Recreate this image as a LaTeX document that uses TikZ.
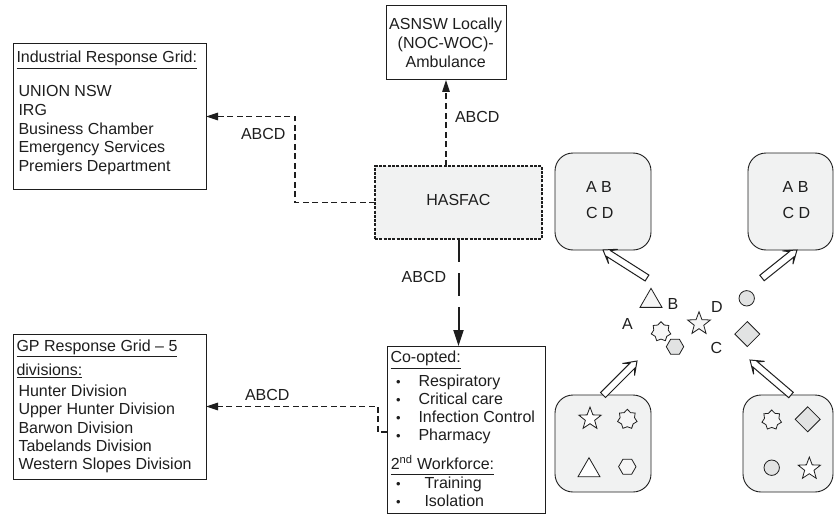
\documentclass[tikz,border=0pt]{standalone}
\usepackage{fontspec}
\setmainfont{Liberation Sans}
\usetikzlibrary{arrows.meta,shapes.geometric,calc}

\definecolor{ink}{HTML}{1E1E1E}
\definecolor{panel}{HTML}{F1F2F2}
\definecolor{shade}{HTML}{E2E3E3}
\definecolor{pale}{HTML}{F6F6F6}

% open double-stroke arrow drawn along +x, #1 = length
\tikzset{harrow/.pic={
  \draw[draw=ink, line width=1pt, fill=white, line join=miter]
    (0,-3.5) -- ({#1-7},-3.5) -- ({#1-12},-8.5) -- (#1,0) -- ({#1-12},8.5)
    -- ({#1-7},3.5) -- (0,3.5) -- cycle;
}}

\begin{document}
\begin{tikzpicture}[x=1pt,y=-1pt,
  every node/.style={inner sep=0pt, outer sep=0pt, text=ink,
                     font=\fontsize{16}{19}\selectfont},
  box/.style={rectangle, draw=ink, line width=1pt, fill=white},
  rbox/.style={rectangle, draw=ink, line width=0.9pt, fill=panel, rounded corners=18pt},
  ruler/.style={draw=ink, line width=0.9pt},
  conn/.style={draw=ink, line width=1.2pt, dash pattern=on 6pt off 3.5pt,
               -{Triangle[length=12pt,width=7.5pt]}},
  bigconn/.style={draw=ink, line width=2pt, dash pattern=on 23pt off 11pt,
                  -{Triangle[length=16pt,width=10pt]}},
  glyph/.style={draw=ink, line width=0.8pt},
  lbl/.style={anchor=base west},
  bul/.style={anchor=base, font=\fontsize{13}{19}\selectfont}
]
\useasboundingbox (0,0) rectangle (834,516);

% ---------- boxes ----------
\node[box, minimum width=193pt, minimum height=145pt] (irg) at (109.5,116.5) {};
\node[box, minimum width=120pt, minimum height=74pt] (asnsw) at (446,43) {};
\node[rectangle, draw=ink, line width=1.2pt, fill=panel, dash pattern=on 3pt off 1.3pt,
      minimum width=167pt, minimum height=73pt] (hasfac) at (458.5,202.5) {};
\node[box, minimum width=158pt, minimum height=167pt] (coopt) at (466,429.5) {};
\node[box, minimum width=193pt, minimum height=145pt] (gp) at (109.5,406.5) {};

% ---------- Industrial Response Grid ----------
\node[lbl] (irg-t) at (16.5,63) {Industrial Response Grid:};
\draw[ruler] ([yshift=-5pt]irg-t.base west) -- ([yshift=-5pt]irg-t.base east);
\foreach \t [count=\i] in {UNION NSW, IRG, Business Chamber, Emergency Services, Premiers Department}
  \node[lbl] (irg-\i) at (18.5,{96.7+18.75*(\i-1)}) {\t};

% ---------- ASNSW ----------
\node[anchor=base] (as-1) at (445.7,30) {ASNSW Locally};
\node[anchor=base] (as-2) at (445.7,48.5) {(NOC-WOC)-};
\node[anchor=base] (as-3) at (445.7,67.5) {Ambulance};

% ---------- HASFAC ----------
\node[anchor=base] (hasfac-t) at (458.3,205) {HASFAC};

% ---------- GP Response Grid ----------
\node[lbl] (gp-t1) at (16.5,351.7) {GP Response Grid – 5};
\draw[ruler] ([yshift=-4.3pt]gp-t1.base west) -- ([yshift=-4.3pt]gp-t1.base east);
\node[lbl] (gp-t2) at (16.5,375) {divisions:};
\draw[ruler] ([yshift=-2.7pt]gp-t2.base west) -- ([yshift=-2.7pt]gp-t2.base east);
\foreach \t [count=\i] in {Hunter Division, Upper Hunter Division, Barwon Division, Tabelands Division, Western Slopes Division}
  \node[lbl] (gp-\i) at (18.5,{396.7+18.15*(\i-1)}) {\t};

% ---------- Co-opted ----------
\node[lbl] (co-t) at (390.5,362.7) {Co-opted:};
\draw[ruler] ([yshift=-6pt]co-t.base west) -- ([yshift=-6pt]co-t.base east);
\foreach \t [count=\i] in {Respiratory, Critical care, Infection Control, Pharmacy} {
  \node[bul] (co-b\i) at (398.3,{386.7+18*(\i-1)}) {\textbullet};
  \node[lbl] (co-\i) at (418.5,{386.7+18*(\i-1)}) {\t};
}
\node[lbl] (wf-t) at (390.8,469.3) {2\textsuperscript{nd} Workforce:};
\draw[ruler] ([yshift=-4.7pt]wf-t.base west) -- ([yshift=-4.7pt]wf-t.base east);
\node[bul] (wf-b1) at (398.3,488.3) {\textbullet};
\node[lbl] (wf-1) at (424.5,488.3) {Training};
\node[bul] (wf-b2) at (398.3,506.6) {\textbullet};
\node[lbl] (wf-2) at (424.5,506.6) {Isolation};

% ---------- connectors ----------
\coordinate (k1) at (295,116.5);
\draw[conn] (hasfac.west) -| (k1) -- (irg.east);
\node[lbl] (l1) at (241,139.5) {ABCD};

\draw[conn] (asnsw.south |- hasfac.north) -- (asnsw.south);
\node[lbl] (l2) at (455,122.3) {ABCD};

\draw[bigconn] (hasfac.south) -- (hasfac.south |- coopt.north);
\node[lbl] (l3) at (401.7,282.7) {ABCD};

\coordinate (k2) at (378,406.5);
\draw[conn] ([yshift=-2.5pt]coopt.west) -| (k2) -- (gp.east);
\node[lbl] (l4) at (245,400.7) {ABCD};

% ---------- rounded panels ----------
\node[rbox, minimum width=96pt, minimum height=97pt] (tl) at (603,201.5) {};
\node[rbox, minimum width=85pt, minimum height=97pt] (tr) at (790.5,201.5) {};
\node[rbox, minimum width=96pt, minimum height=97pt] (bl) at (603,443.5) {};
\node[rbox, minimum width=90pt, minimum height=97pt] (br) at (788,443.5) {};

\node[lbl] (tl-1) at (586,192.7) {A B};
\node[lbl] (tl-2) at (586,218.3) {C D};
\node[lbl] (tr-1) at (782.7,192.7) {A B};
\node[lbl] (tr-2) at (782.7,218.3) {C D};

% shapes inside the lower panels
\node[glyph, star, star points=5, star point ratio=2.4, minimum size=23.5pt, fill=white] (bl-s5) at (590,418.8) {};
\node[glyph, star, star points=7, star point ratio=1.35, minimum size=20pt, fill=pale] (bl-s7) at (627.3,419.3) {};
\node[glyph, regular polygon, regular polygon sides=3, minimum size=25.4pt, fill=white] (bl-tri) at (589,470.4) {};
\node[glyph, regular polygon, regular polygon sides=6, minimum size=17.4pt, fill=pale] (bl-hex) at (627.3,466.7) {};

\node[glyph, star, star points=7, star point ratio=1.35, minimum size=20pt, fill=pale] (br-s7) at (771.7,420) {};
\node[glyph, diamond, minimum width=25pt, minimum height=25pt, fill=shade] (br-dia) at (807.7,419.3) {};
\node[glyph, circle, minimum size=15.4pt, fill=shade] (br-cir) at (771.7,467.7) {};
\node[glyph, star, star points=5, star point ratio=2.4, minimum size=23.5pt, fill=white] (br-s5) at (809.3,468.8) {};

% scattered shapes in the middle
\node[glyph, regular polygon, regular polygon sides=3, minimum size=25.4pt, fill=pale] (m-tri) at (651,301) {};
\node[lbl] (m-b) at (667.5,309.3) {B};
\node[lbl] (m-a) at (622,329) {A};
\node[glyph, star, star points=7, star point ratio=1.35, minimum size=20pt, fill=pale] (m-s7) at (661,331.7) {};
\node[glyph, regular polygon, regular polygon sides=6, minimum size=17.4pt, fill=shade] (m-hex) at (675,346.7) {};
\node[glyph, star, star points=5, star point ratio=2.4, minimum size=24pt, fill=pale] (m-s5) at (699,323.7) {};
\node[lbl] (m-d) at (711,312.7) {D};
\node[lbl] (m-c) at (710.5,353.3) {C};
\node[glyph, circle, minimum size=15.4pt, fill=shade] (m-cir) at (746.7,298.3) {};
\node[glyph, diamond, minimum width=25pt, minimum height=25pt, fill=shade] (m-dia) at (747.3,334) {};

% ---------- open arrows between the cluster and the panels ----------
\coordinate (ha) at (647,278);
\coordinate (hb) at (762,278);
\coordinate (hc) at (637,361);
\coordinate (hd) at (750,360);
\coordinate (tr-in) at ([xshift=6.5pt]tr.south);
\coordinate (br-out) at ([xshift=3pt]br.north);
\foreach \s/\e in {ha/tl.south, hb/tr-in, bl.north/hc, br-out/hd}
  \path let \p1=(\s), \p2=(\e),
            \n1={atan2(\y2-\y1,\x2-\x1)}, \n2={veclen(\x2-\x1,\y2-\y1)} in
        pic[rotate=\n1] at (\p1) {harrow={\n2}};
\end{tikzpicture}
\end{document}
